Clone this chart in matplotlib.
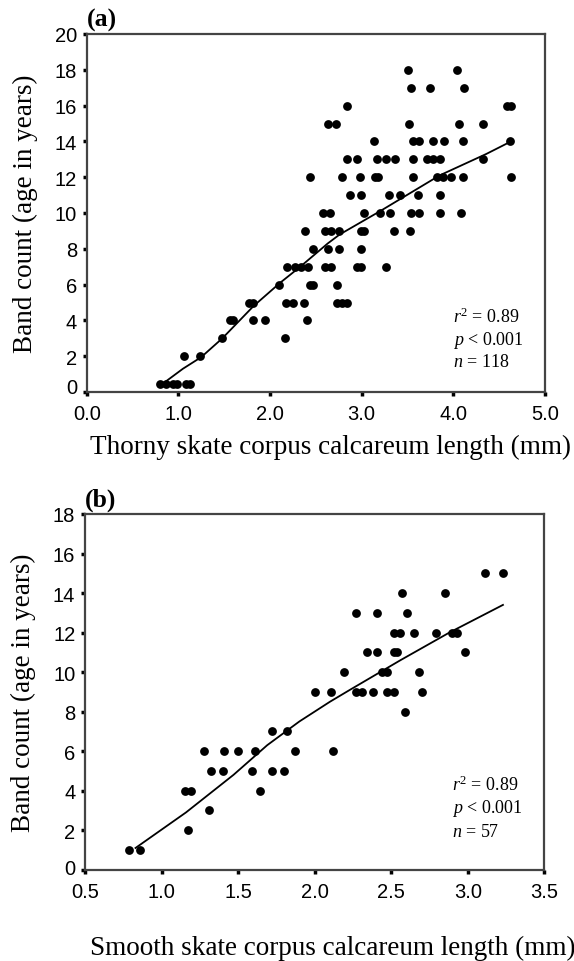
import matplotlib
matplotlib.use("Agg")
import matplotlib.pyplot as plt
from matplotlib.transforms import ScaledTranslation

# ---------------- Panel (a): Thorny skate ----------------
a_x = [0.80, 0.87, 0.94, 0.99, 1.08, 1.13,
       1.06, 1.24,
       1.48, 2.16,
       1.56, 1.60, 1.81, 1.95, 2.40,
       1.77, 1.81, 2.17, 2.25, 2.37, 2.73, 2.78, 2.84,
       2.10, 2.44, 2.47, 2.73,
       2.18, 2.27, 2.34, 2.41, 2.60, 2.67, 2.95, 2.99, 3.26,
       2.47, 2.63, 2.75, 2.99,
       2.38, 2.60, 2.67, 2.75, 2.99, 3.03, 3.35, 3.53,
       2.58, 2.65, 3.02, 3.20, 3.31, 3.54, 3.63, 3.85, 4.08,
       2.87, 2.99, 3.30, 3.42, 3.61, 3.85,
       2.44, 2.78, 2.98, 3.14, 3.18, 3.56, 3.82, 3.89, 3.97, 4.11, 4.63,
       2.84, 2.95, 3.17, 3.26, 3.36, 3.56, 3.71, 3.78, 3.85, 4.32,
       3.13, 3.56, 3.62, 3.78, 3.90, 4.11, 4.62,
       2.63, 2.72, 3.52, 4.06, 4.32,
       2.84, 4.59, 4.63,
       3.54, 3.74, 4.12,
       3.50, 4.04]
a_y = [0.45, 0.45, 0.45, 0.45, 0.45, 0.45,
       2, 2,
       3, 3,
       4, 4, 4, 4, 4,
       5, 5, 5, 5, 5, 5, 5, 5,
       6, 6, 6, 6,
       7, 7, 7, 7, 7, 7, 7, 7, 7,
       8, 8, 8, 8,
       9, 9, 9, 9, 9, 9, 9, 9,
       10, 10, 10, 10, 10, 10, 10, 10, 10,
       11, 11, 11, 11, 11, 11,
       12, 12, 12, 12, 12, 12, 12, 12, 12, 12, 12,
       13, 13, 13, 13, 13, 13, 13, 13, 13, 13,
       14, 14, 14, 14, 14, 14, 14,
       15, 15, 15, 15, 15,
       16, 16, 16,
       17, 17, 17,
       18, 18]
a_fit_x = [0.80, 1.05, 1.25, 1.48, 1.82, 2.11, 2.33, 2.63, 2.76, 3.20, 3.85, 4.36, 4.63]
a_fit_y = [0.35, 1.3, 1.95, 3.0, 4.8, 6.1, 7.0, 8.3, 8.8, 10.1, 12.1, 13.3, 14.0]
a_xticks = [0.0, 1.0, 2.0, 3.0, 4.0, 5.0]
a_yticks = [0, 2, 4, 6, 8, 10, 12, 14, 16, 18, 20]

# ---------------- Panel (b): Smooth skate ----------------
b_x = [0.79, 0.86,
       1.17,
       1.31,
       1.15, 1.19, 1.64,
       1.32, 1.40, 1.59, 1.72, 1.80,
       1.28, 1.41, 1.50, 1.61, 1.87, 2.12,
       1.72, 1.82,
       2.59,
       2.00, 2.11, 2.27, 2.31, 2.38, 2.47, 2.52, 2.70,
       2.19, 2.44, 2.47, 2.68,
       2.34, 2.41, 2.52, 2.54, 2.98,
       2.52, 2.56, 2.65, 2.79, 2.90, 2.93,
       2.27, 2.41, 2.60,
       2.57, 2.85,
       3.11, 3.23]
b_y = [1, 1,
       2,
       3,
       4, 4, 4,
       5, 5, 5, 5, 5,
       6, 6, 6, 6, 6, 6,
       7, 7,
       8,
       9, 9, 9, 9, 9, 9, 9, 9,
       10, 10, 10, 10,
       11, 11, 11, 11, 11,
       12, 12, 12, 12, 12, 12,
       13, 13, 13,
       14, 14,
       15, 15]
b_fit_x = [0.83, 1.16, 1.47, 1.69, 1.90, 2.10, 2.23, 2.56, 2.88, 3.23]
b_fit_y = [1.1, 2.9, 4.8, 6.3, 7.5, 8.5, 9.1, 10.6, 12.0, 13.4]
b_xticks = [0.5, 1.0, 1.5, 2.0, 2.5, 3.0, 3.5]
b_yticks = [0, 2, 4, 6, 8, 10, 12, 14, 16, 18]

SANS = ["Liberation Sans", "DejaVu Sans"]
SERIF = ["Liberation Serif", "DejaVu Serif"]
SPINE = "#444444"

plt.rcParams["mathtext.fontset"] = "custom"
plt.rcParams["mathtext.it"] = "Liberation Serif:italic"
plt.rcParams["mathtext.rm"] = "Liberation Serif"

fig = plt.figure(figsize=(5.74, 9.62), dpi=100)
W, H = 574, 962


def make_axes(l, r, t, b):
    return fig.add_axes([l / W, 1 - b / H, (r - l) / W, (b - t) / H])


def style(ax, xticks, yticks, xfmt):
    for s in ax.spines.values():
        s.set_color(SPINE)
        s.set_linewidth(1.6)
    ax.set_xticks(xticks)
    ax.set_xticklabels([xfmt.format(v) for v in xticks], family=SANS, fontsize=14.5)
    ax.set_yticks(yticks)
    ax.set_yticklabels([str(v) for v in yticks], family=SANS, fontsize=14.5)
    ax.tick_params(direction="out", length=3, width=2.5, color="black")
    ax.tick_params(axis="x", pad=6)
    ax.tick_params(axis="y", pad=4)


def stats(ax, n, ys):
    labels = [r"$r^2$" + " = 0.89", r"$p$" + " < 0.001", r"$n$" + " = " + str(n)]
    for lab, yy in zip(labels, ys):
        ax.text((453 - 86) / 459, yy, lab, transform=ax.transAxes,
                family=SERIF, fontsize=13, va="center", ha="left")


# Panel (a)
ax1 = make_axes(86.7, 545, 35, 393)
ax1.scatter(a_x, a_y, s=40, color="black", zorder=3, linewidths=0)
ax1.plot(a_fit_x, a_fit_y, color="black", lw=1.3, zorder=2)
ax1.set_xlim(0, 5)
ax1.set_ylim(0, 20)
style(ax1, a_xticks, a_yticks, "{:.1f}")
ax1.set_ylabel("Band count (age in years)", family=SERIF, fontsize=19.5, labelpad=12)
ax1.text(0.0, 1.008, "(a)", transform=ax1.transAxes, family=SERIF,
         fontsize=18.5, fontweight="bold", va="bottom", ha="left")
stats(ax1, 118, [0.212, 0.148, 0.084])
# the "0" label in the reference sits a little above the axis corner
lab0 = ax1.get_yticklabels()[0]
lab0.set_transform(lab0.get_transform() + ScaledTranslation(0, 7 / 100, fig.dpi_scale_trans))
fig.text(331 / W, 1 - 447 / H, "Thorny skate corpus calcareum length (mm)",
         family=SERIF, fontsize=19.5, ha="center", va="center")

# Panel (b)
ax2 = make_axes(85, 544.3, 515, 870.7)
ax2.scatter(b_x, b_y, s=40, color="black", zorder=3, linewidths=0)
ax2.plot(b_fit_x, b_fit_y, color="black", lw=1.3, zorder=2)
ax2.set_xlim(0.5, 3.5)
ax2.set_ylim(0, 18)
style(ax2, b_xticks, b_yticks, "{:.1f}")
ax2.set_ylabel("Band count (age in years)", family=SERIF, fontsize=19.5, labelpad=12)
ax2.text(0.0, 1.008, "(b)", transform=ax2.transAxes, family=SERIF,
         fontsize=18.5, fontweight="bold", va="bottom", ha="left")
stats(ax2, 57, [0.241, 0.176, 0.106])
lab0b = ax2.get_yticklabels()[0]
lab0b.set_transform(lab0b.get_transform() + ScaledTranslation(0, 3 / 100, fig.dpi_scale_trans))
fig.text(333 / W, 1 - 948 / H, "Smooth skate corpus calcareum length (mm)",
         family=SERIF, fontsize=19.5, ha="center", va="center")

fig.savefig("out.png", dpi=100, facecolor="white")
